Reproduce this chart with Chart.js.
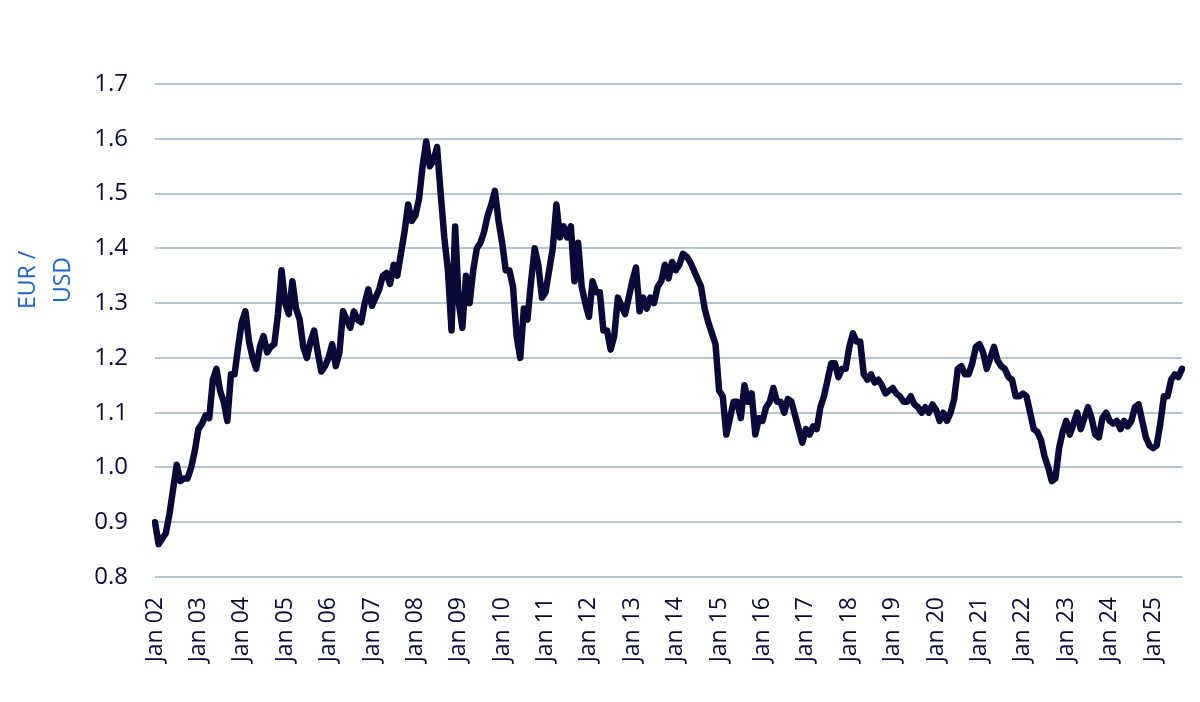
<!DOCTYPE html>
<html lang="en">
<head>
  <meta charset="UTF-8">
  <title>EUR / USD</title>
  <style>
    body { margin: 0; background: #fff; }
    .wrap { width: 1200px; height: 702px; }
  </style>
</head>
<body>
  <div class="wrap">
    <canvas class="fxChart"></canvas>
  </div>

  <script src="https://cdn.jsdelivr.net/npm/chart.js"></script>
  <script>

// tick labels on the x axis, one per January
let yearLabels = ['Jan 02', 'Jan 03', 'Jan 04', 'Jan 05', 'Jan 06', 'Jan 07', 'Jan 08', 'Jan 09',
  'Jan 10', 'Jan 11', 'Jan 12', 'Jan 13', 'Jan 14', 'Jan 15', 'Jan 16', 'Jan 17', 'Jan 18',
  'Jan 19', 'Jan 20', 'Jan 21', 'Jan 22', 'Jan 23', 'Jan 24', 'Jan 25'];

// monthly EUR/USD, Jan 2002 .. Sep 2025
let eurUsd = [
  0.90, 0.86, 0.87, 0.88, 0.915, 0.96, 1.005, 0.975, 0.98, 0.98, 1.00, 1.03,       // 2002
  1.07, 1.08, 1.095, 1.09, 1.16, 1.18, 1.14, 1.12, 1.085, 1.17, 1.17, 1.22,       // 2003
  1.265, 1.285, 1.23, 1.20, 1.18, 1.22, 1.24, 1.21, 1.22, 1.225, 1.28, 1.36,      // 2004
  1.30, 1.28, 1.34, 1.29, 1.27, 1.22, 1.20, 1.23, 1.25, 1.21, 1.175, 1.185,       // 2005
  1.20, 1.225, 1.185, 1.21, 1.285, 1.27, 1.255, 1.285, 1.27, 1.265, 1.30, 1.325,  // 2006
  1.295, 1.31, 1.325, 1.35, 1.355, 1.335, 1.37, 1.35, 1.39, 1.43, 1.48, 1.45,     // 2007
  1.46, 1.49, 1.55, 1.595, 1.55, 1.56, 1.585, 1.50, 1.42, 1.36, 1.25, 1.44,       // 2008
  1.30, 1.255, 1.35, 1.30, 1.36, 1.40, 1.41, 1.43, 1.46, 1.48, 1.505, 1.45,       // 2009
  1.41, 1.36, 1.36, 1.33, 1.24, 1.20, 1.29, 1.27, 1.34, 1.40, 1.37, 1.31,         // 2010
  1.32, 1.36, 1.40, 1.48, 1.42, 1.44, 1.42, 1.44, 1.34, 1.41, 1.33, 1.30,         // 2011
  1.275, 1.34, 1.32, 1.32, 1.25, 1.25, 1.215, 1.24, 1.31, 1.295, 1.28, 1.31,      // 2012
  1.34, 1.365, 1.285, 1.31, 1.29, 1.31, 1.30, 1.33, 1.34, 1.37, 1.345, 1.375,     // 2013
  1.36, 1.37, 1.39, 1.385, 1.375, 1.36, 1.345, 1.33, 1.29, 1.265, 1.245, 1.225,   // 2014
  1.14, 1.13, 1.06, 1.09, 1.12, 1.12, 1.09, 1.15, 1.12, 1.135, 1.06, 1.09,        // 2015
  1.085, 1.11, 1.12, 1.145, 1.12, 1.12, 1.10, 1.125, 1.12, 1.095, 1.07, 1.045,    // 2016
  1.07, 1.06, 1.075, 1.07, 1.11, 1.13, 1.16, 1.19, 1.19, 1.165, 1.18, 1.18,       // 2017
  1.22, 1.245, 1.23, 1.23, 1.17, 1.16, 1.17, 1.155, 1.16, 1.15, 1.135, 1.14,      // 2018
  1.145, 1.135, 1.13, 1.12, 1.12, 1.13, 1.115, 1.11, 1.10, 1.11, 1.10, 1.115,     // 2019
  1.105, 1.085, 1.10, 1.085, 1.10, 1.125, 1.18, 1.185, 1.17, 1.17, 1.19, 1.22,    // 2020
  1.225, 1.21, 1.18, 1.20, 1.22, 1.195, 1.185, 1.18, 1.165, 1.16, 1.13, 1.13,     // 2021
  1.135, 1.13, 1.10, 1.07, 1.065, 1.05, 1.02, 1.00, 0.975, 0.98, 1.035, 1.065,    // 2022
  1.085, 1.06, 1.08, 1.10, 1.07, 1.09, 1.11, 1.09, 1.06, 1.055, 1.09, 1.10,       // 2023
  1.085, 1.08, 1.085, 1.07, 1.085, 1.075, 1.085, 1.11, 1.115, 1.085, 1.055, 1.04, // 2024
  1.035, 1.04, 1.08, 1.13, 1.13, 1.16, 1.17, 1.165, 1.18                          // 2025
];

let yMin = 0.8;
let yMax = 1.7;
let yStep = 0.1;
let axisTitle = ['EUR /', 'USD'];

const navy = '#0a0a38';
const gridColor = '#b6c5d2';
const titleBlue = '#1f63c9';

// one category per month, only Januaries get a label
let monthIndex = eurUsd.map((v, i) => i);

// y title sits a bit above the middle of the axis, so it is drawn by hand
const axisTitlePlugin = {
  id: 'axisTitle',
  afterDraw(chart) {
    let ctx = chart.ctx;
    ctx.save();
    ctx.fillStyle = titleBlue;
    ctx.font = '23px "Open Sans"';
    ctx.textAlign = 'center';
    ctx.textBaseline = 'middle';
    let cy = chart.chartArea.top + 196;
    axisTitle.forEach((line, i) => {
      ctx.save();
      ctx.translate(28 + i * 35, cy);
      ctx.rotate(-Math.PI / 2);
      ctx.fillText(line, 0, 0);
      ctx.restore();
    });
    ctx.restore();
  }
};

let canvas = document.querySelector('.fxChart');
let context = canvas.getContext('2d');

let config = {
  type: 'line',
  data: {
    labels: monthIndex,
    datasets: [{
      data: eurUsd,
      borderColor: navy,
      borderWidth: 6.5,
      pointRadius: 0,
      tension: 0,
      fill: false,
      borderJoinStyle: 'round',
      borderCapStyle: 'round'
    }]
  },
  options: {
    responsive: true,
    maintainAspectRatio: false,
    animation: false,
    devicePixelRatio: 1,
    layout: {
      padding: { top: 84, right: 18, left: 0, bottom: 0 }
    },
    plugins: {
      legend: { display: false },
      tooltip: { enabled: false }
    },
    scales: {
      x: {
        type: 'category',
        offset: false,
        grid: { display: false, drawTicks: false },
        border: { display: false },
        ticks: {
          autoSkip: false,
          minRotation: 90,
          maxRotation: 90,
          padding: 20,
          color: navy,
          font: { family: 'Open Sans', size: 23 },
          callback: function(value, index) {
            return index % 12 === 0 ? yearLabels[index / 12] : '';
          }
        },
        afterFit: function(scale) {
          // rotated labels make chart.js keep room on the right, drop it
          scale.height = 125;
          scale.paddingLeft = 0;
          scale.paddingRight = 0;
        }
      },
      y: {
        min: yMin,
        max: yMax,
        grid: { color: gridColor, lineWidth: 2, drawTicks: false },
        border: { display: false },
        ticks: {
          stepSize: yStep,
          padding: 27,
          color: navy,
          font: { family: 'Open Sans', size: 24 },
          callback: function(value) {
            return value.toFixed(1);
          }
        },
        afterFit: function(scale) {
          scale.width = 155;
        }
      }
    }
  },
  plugins: [axisTitlePlugin]
};

new Chart(context, config);

  </script>
</body>
</html>
